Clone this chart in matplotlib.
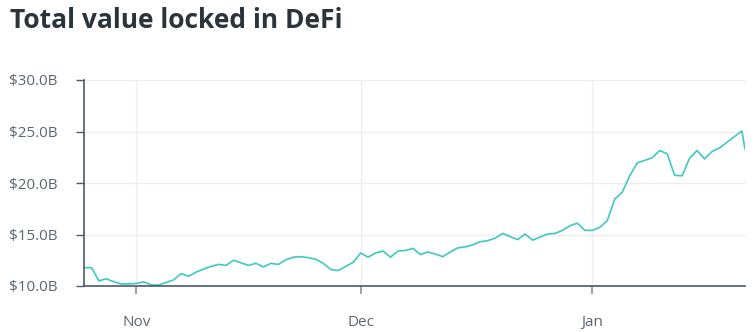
import matplotlib
matplotlib.use("Agg")
import matplotlib.pyplot as plt
import matplotlib.dates as mdates
import matplotlib.ticker as mticker
import pandas as pd

plt.rcParams['font.family'] = ['Open Sans', 'DejaVu Sans']

title = "Total value locked in DeFi"
start_date = "2020-10-25"
tvl_billions = [
    11.78, 11.78, 10.5, 10.7, 10.4, 10.2, 10.2, 10.25, 10.4, 10.1,
    10.1, 10.35, 10.6, 11.2, 10.95, 11.35, 11.65, 11.9, 12.1, 12.0,
    12.5, 12.25, 12.0, 12.2, 11.85, 12.2, 12.1, 12.55, 12.8, 12.85,
    12.75, 12.6, 12.2, 11.6, 11.5, 11.9, 12.3, 13.2, 12.8, 13.2,
    13.4, 12.8, 13.4, 13.45, 13.65, 13.05, 13.3, 13.1, 12.85, 13.3,
    13.7, 13.8, 14.0, 14.3, 14.4, 14.65, 15.1, 14.8, 14.5, 15.05,
    14.45, 14.75, 15.05, 15.1, 15.4, 15.85, 16.1, 15.4, 15.4, 15.7,
    16.35, 18.45, 19.1, 20.7, 21.95, 22.2, 22.45, 23.15, 22.85, 20.75,
    20.7, 22.4, 23.15, 22.35, 23.05, 23.4, 23.95, 24.5, 25.05,
]
last_timestamp = "2021-01-21 10:00"
last_value = 23.3
y_ticks = [10, 15, 20, 25, 30]

dates = list(pd.date_range(start_date, periods=len(tvl_billions), freq="D"))
dates.append(pd.Timestamp(last_timestamp))
values = tvl_billions + [last_value]

fig = plt.figure(figsize=(7.56, 3.32), dpi=100)
ax = fig.add_axes([84/756, 1-286/332, (745-84)/756, (286-80)/332])

ax.plot(dates, values, color="#3ec9c1", linewidth=1.2, solid_joinstyle="miter")

ax.set_xlim(dates[0], dates[-1])
ax.set_ylim(10, 30)
ax.set_yticks(y_ticks)
ax.yaxis.set_major_formatter(mticker.FuncFormatter(lambda v, p: f"${v:.1f}B"))
ax.xaxis.set_major_locator(mdates.MonthLocator())
ax.xaxis.set_major_formatter(mdates.DateFormatter("%b"))

ax.grid(True, color="#eeeeee", linewidth=1)
ax.set_axisbelow(True)
for s in ["top", "right"]:
    ax.spines[s].set_visible(False)
for s in ["left", "bottom"]:
    ax.spines[s].set_color("#4a5b6b")
    ax.spines[s].set_linewidth(1.2)

ax.tick_params(axis="y", length=6, width=1, color="#4a5b6b", labelsize=11,
               labelcolor="#5b6670", pad=13)
ax.tick_params(axis="x", length=6, width=1.2, color="#8a939b", labelsize=11,
               labelcolor="#5b6670", pad=15)

fig.text(10/756, 1-20/332, title, fontsize=19, fontweight="bold",
         color="#2b333b", ha="left", va="center")

fig.savefig("out.png", dpi=100)
